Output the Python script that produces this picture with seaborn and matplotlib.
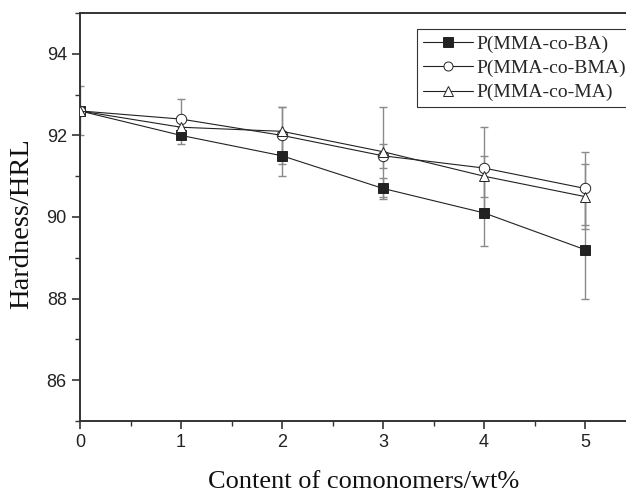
import numpy as np
import pandas as pd
import matplotlib
matplotlib.use("Agg")
import matplotlib.pyplot as plt
from matplotlib.lines import Line2D
import seaborn as sns

content = [0, 1, 2, 3, 4, 5]
series_names = ["P(MMA-co-BA)", "P(MMA-co-BMA)", "P(MMA-co-MA)"]
ba = [92.6, 92.0, 91.5, 90.7, 90.1, 89.2]
bma = [92.6, 92.4, 92.0, 91.5, 91.2, 90.7]
ma = [92.6, 92.2, 92.1, 91.6, 91.0, 90.5]
ba_err = [0.6, 0.2, 0.5, 0.25, 0.8, 1.2]
bma_err = [0.0, 0.5, 0.7, 0.3, 1.0, 0.9]
ma_err = [0.0, 0.2, 0.6, 1.1, 0.5, 0.8]

values = [ba, bma, ma]
errors = [ba_err, bma_err, ma_err]

rows = []
for name, vals in zip(series_names, values):
    for x, v in zip(content, vals):
        rows.append({"Content": x, "Hardness": v, "Series": name})
df = pd.DataFrame(rows)

sns.set_style("ticks")
plt.rcParams["font.family"] = ["Liberation Sans", "DejaVu Sans"]

fig = plt.figure(figsize=(6.26, 4.93), dpi=100)
ax = fig.add_axes([80 / 626, 72 / 493, 555.5 / 626, 408 / 493])

# error bars
for vals, errs in zip(values, errors):
    ax.errorbar(content, vals, yerr=errs, fmt="none", ecolor="#8a8a8a",
                elinewidth=1.0, capsize=3.2, capthick=1.0, zorder=1)

markers = {"P(MMA-co-BA)": "s", "P(MMA-co-BMA)": "o", "P(MMA-co-MA)": "^"}
sns.lineplot(data=df, x="Content", y="Hardness", hue="Series", style="Series",
             markers=markers, dashes=False,
             palette={n: "#222222" for n in series_names},
             linewidth=0.8, markersize=7.5, ax=ax, zorder=3, legend=False)

lines = [l for l in ax.get_lines() if l.get_marker() in ("s", "o", "^")]
for l in lines:
    m = l.get_marker()
    l.set_markerfacecolor("#222222" if m == "s" else "white")
    l.set_markeredgecolor("#222222")
    l.set_markeredgewidth(0.7)

handles = []
for name in series_names:
    m = markers[name]
    handles.append(Line2D([0], [0], color="#222222", lw=0.8, marker=m,
                          markersize=6.5,
                          markerfacecolor="#222222" if m == "s" else "white",
                          markeredgecolor="#222222", markeredgewidth=0.7))

leg = ax.legend(handles, series_names, loc="upper left",
                bbox_to_anchor=(337 / 555.5, 1 - 16 / 408),
                frameon=True, fancybox=False, framealpha=1,
                edgecolor="#333333", handlelength=2.6, handletextpad=0.15,
                borderpad=0.3, labelspacing=0.35, borderaxespad=0.0,
                prop={"family": ["Liberation Serif"], "size": 14})
leg.get_frame().set_linewidth(0.8)

ax.set_xlim(0, 5.5)
ax.set_ylim(85, 95)
ax.set_xticks([0, 1, 2, 3, 4, 5])
ax.set_xticks(np.arange(0.5, 5.5, 1.0), minor=True)
ax.set_yticks([86, 88, 90, 92, 94])
ax.set_yticks([85, 87, 89, 91, 93, 95], minor=True)
ax.tick_params(axis="both", which="major", direction="out", length=6,
               width=1.2, labelsize=13, colors="#333333", labelcolor="#222222")
ax.tick_params(axis="both", which="minor", direction="out", length=3.5,
               width=1.0, colors="#333333")
for s in ax.spines.values():
    s.set_linewidth(1.4)
    s.set_color("#333333")

ax.set_xlabel("Content of comonomers/wt%", family=["Liberation Serif"],
              fontsize=19, color="#111111")
ax.set_ylabel("Hardness/HRL", family=["Liberation Serif"], fontsize=20.5,
              color="#111111")
ax.xaxis.set_label_coords((364 - 80) / 555.5, -(471 - 421) / 408)
ax.yaxis.set_label_coords(-(80 - 34) / 555.5, 1 - (224 - 13) / 408)

fig.savefig("out.png", dpi=100)
